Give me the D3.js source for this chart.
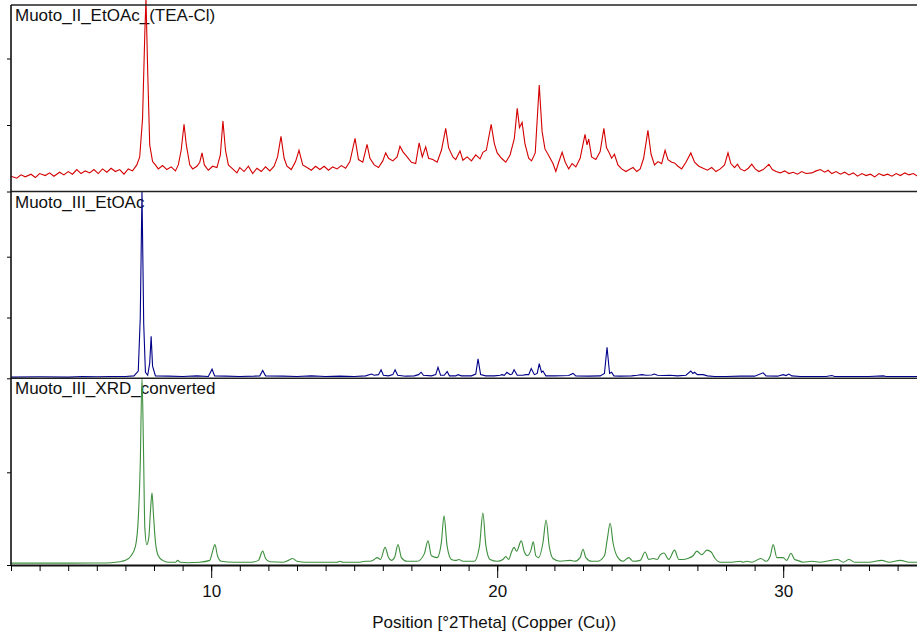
<!DOCTYPE html>
<meta charset="utf-8">
<head>
    <title>XRD patterns - Muoto</title>
    <script src="https://d3js.org/d3.v7.min.js"></script>
    <style>
        body { margin: 0; background: #fff; }
        text { font-family: Arial, "Liberation Sans", sans-serif; fill: #111; }
    </style>
</head>
<body>
<svg id="chart"></svg>
<script>
    // sample names, top to bottom
    var sampleNames = ["Muoto_II_EtOAc_(TEA-Cl)", "Muoto_III_EtOAc", "Muoto_III_XRD_converted"];

    // [2theta, counts]
    var teaClPattern = [
        [3.0,23],[3.2,20],[3.35,25],[3.5,22],[3.7,26],[3.85,21],[4.0,27],[4.2,24],[4.35,28],[4.5,23],
        [4.7,29],[4.85,25],[5.0,30],[5.15,26],[5.3,33],[5.45,27],[5.6,31],[5.75,28],[5.9,33],[6.05,27],
        [6.2,34],[6.35,29],[6.5,35],[6.65,30],[6.8,33],[6.95,26],[7.1,34],[7.25,31],[7.4,40],[7.5,52],
        [7.6,110],[7.68,240],[7.72,290],[7.78,180],[7.85,70],[7.95,45],[8.05,40],[8.15,34],[8.3,39],[8.45,33],
        [8.6,37],[8.75,31],[8.85,40],[8.95,62],[9.05,101],[9.13,70],[9.25,40],[9.35,34],[9.5,38],[9.6,44],
        [9.68,58],[9.76,40],[9.9,32],[10.05,38],[10.2,36],[10.32,55],[10.41,106],[10.5,62],[10.6,40],[10.75,34],
        [10.9,28],[11.0,36],[11.15,30],[11.3,38],[11.45,27],[11.6,35],[11.75,30],[11.9,37],[12.05,31],[12.2,38],
        [12.32,52],[12.44,83],[12.55,50],[12.65,38],[12.8,33],[12.95,45],[13.07,62],[13.2,40],[13.35,36],[13.5,32],
        [13.65,38],[13.8,33],[13.95,38],[14.1,32],[14.25,37],[14.4,34],[14.55,39],[14.7,35],[14.85,45],[15.03,80],
        [15.15,48],[15.3,44],[15.45,71],[15.55,50],[15.7,40],[15.85,36],[16.0,46],[16.1,58],[16.2,50],[16.35,46],
        [16.5,52],[16.6,68],[16.7,60],[16.85,52],[17.0,44],[17.15,42],[17.27,73],[17.38,52],[17.5,67],[17.6,50],
        [17.75,48],[17.9,44],[18.05,62],[18.2,95],[18.3,66],[18.45,52],[18.55,48],[18.7,61],[18.8,47],[18.95,52],
        [19.1,46],[19.25,55],[19.4,49],[19.5,59],[19.62,62],[19.79,101],[19.9,72],[20.0,58],[20.15,50],[20.3,44],
        [20.45,55],[20.6,80],[20.7,125],[20.78,96],[20.87,104],[20.97,72],[21.1,50],[21.2,46],[21.33,58],[21.47,160],
        [21.57,90],[21.67,64],[21.8,54],[21.95,42],[22.05,30],[22.15,44],[22.27,59],[22.38,44],[22.5,34],[22.62,42],
        [22.75,37],[22.9,50],[23.07,86],[23.14,70],[23.2,79],[23.3,52],[23.45,48],[23.6,60],[23.73,95],[23.82,66],
        [23.92,58],[24.0,50],[24.1,56],[24.22,40],[24.35,34],[24.5,30],[24.62,33],[24.75,36],[24.88,30],[25.0,34],
        [25.12,50],[25.27,92],[25.38,56],[25.5,40],[25.62,45],[25.75,42],[25.87,62],[25.97,48],[26.1,44],[26.2,43],
        [26.32,38],[26.45,34],[26.6,44],[26.77,58],[26.9,44],[27.05,38],[27.2,35],[27.35,32],[27.5,36],[27.65,30],
        [27.8,34],[27.95,40],[28.07,58],[28.17,42],[28.3,36],[28.4,41],[28.5,34],[28.65,31],[28.78,35],[28.9,41],
        [29.02,34],[29.15,30],[29.3,33],[29.5,41],[29.62,33],[29.75,30],[29.9,28],[30.05,31],[30.2,27],[30.35,29],
        [30.5,26],[30.65,30],[30.8,27],[31.0,28],[31.15,31],[31.3,33],[31.45,29],[31.57,32],[31.7,27],[31.85,30],
        [32.0,26],[32.15,29],[32.3,25],[32.45,28],[32.6,23],[32.75,27],[32.9,24],[33.05,26],[33.2,22],[33.35,27],
        [33.5,24],[33.65,26],[33.8,23],[33.95,27],[34.1,24],[34.25,28],[34.4,25],[34.55,27],[34.7,23],[34.85,26],[35.0,24]
    ];

    var etoacPattern = [
        [3.0,2],[4.0,2.5],[5.0,2],[5.5,3],[6.0,2.5],[6.5,3],[7.0,3],[7.3,4],[7.45,12],[7.52,100],
        [7.58,307],[7.64,90],[7.7,10],[7.78,5],[7.85,25],[7.9,69],[7.95,20],[8.05,4],[8.5,3.5],[9.0,3],
        [9.5,4],[9.9,3],[10.03,15],[10.12,4],[10.5,3.5],[11.0,3],[11.5,3.5],[11.7,4],[11.8,13],[11.9,4],
        [12.5,3.5],[13.0,3],[13.5,4],[14.0,3],[14.5,3.5],[15.0,3],[15.4,4],[15.6,7],[15.7,5],[15.85,6],
        [15.94,14],[16.02,5],[16.2,4],[16.35,6],[16.43,14],[16.52,5],[16.8,3.5],[17.1,4],[17.25,6],[17.34,10],
        [17.42,5],[17.7,4],[17.85,6],[17.93,18],[18.02,5],[18.15,5],[18.25,11],[18.33,4],[18.55,4],[18.63,6],
        [18.75,4],[19.1,4],[19.25,7],[19.33,32],[19.42,6],[19.6,4],[19.9,4],[20.1,5],[20.17,6],[20.25,5],
        [20.34,10],[20.45,6],[20.52,7],[20.59,14],[20.7,5],[20.9,5],[21.0,6],[21.1,6],[21.19,16],[21.3,6],
        [21.4,8],[21.47,24],[21.55,10],[21.6,12],[21.7,4],[22.0,4],[22.5,4.5],[22.65,8],[22.75,4],[23.2,3.5],
        [23.6,4],[23.75,8],[23.84,51],[23.93,8],[24.0,10],[24.08,4],[24.3,3.5],[24.7,4],[24.9,5],[25.06,6],
        [25.2,5],[25.4,5.5],[25.5,7],[25.6,5],[25.8,4.5],[26.04,5],[26.3,4],[26.6,5],[26.77,12],[26.84,8],
        [26.9,10],[27.0,6],[27.2,6],[27.35,4],[27.6,3],[28.0,3],[28.5,3.5],[29.0,3.5],[29.3,9],[29.4,4],
        [29.8,3.5],[30.0,6],[30.1,4.5],[30.2,7],[30.3,4],[30.6,3],[31.0,3],[31.5,3],[31.7,4.5],[31.8,3],
        [32.5,3],[33.0,3],[33.5,4],[33.6,3],[34.0,3],[34.5,3],[35.0,3]
    ];

    var convertedPattern = [
        [3.0,2],[4.0,2],[5.0,2],[6.0,2.2],[6.5,2.5],[6.8,3.5],[7.0,5],[7.2,10],[7.35,20],[7.45,50],
        [7.52,110],[7.58,202],[7.63,130],[7.68,40],[7.75,22],[7.82,30],[7.88,60],[7.93,78],[7.98,55],[8.05,25],
        [8.15,10],[8.3,5],[8.5,3],[8.75,3],[8.83,5],[8.92,3],[9.2,2.5],[9.6,3],[9.95,5],[10.05,15],
        [10.13,22],[10.22,10],[10.35,4],[10.8,3],[11.4,3],[11.65,5],[11.8,15],[11.9,7],[12.05,3.5],[12.5,3],
        [12.7,5],[12.85,7],[13.0,4],[13.3,3],[14.0,3],[14.4,3],[14.5,4],[14.6,3],[15.2,3],[15.38,4],
        [15.55,4],[15.7,6],[15.8,8],[15.92,6],[16.08,19],[16.2,8],[16.3,5],[16.42,9],[16.53,22],[16.65,8],
        [16.85,4],[17.2,4],[17.45,12],[17.58,26],[17.7,10],[17.9,8],[18.05,25],[18.14,53],[18.25,20],[18.4,6],
        [18.55,5],[18.66,6],[18.8,4],[19.2,4],[19.38,20],[19.5,56],[19.6,22],[19.75,6],[20.0,4],[20.2,6],
        [20.3,9],[20.4,6],[20.5,14],[20.59,19],[20.68,15],[20.84,26],[20.95,14],[21.05,10],[21.18,16],[21.26,25],
        [21.35,10],[21.45,8],[21.6,24],[21.71,48.5],[21.82,20],[21.95,7],[22.2,4],[22.55,5],[22.7,4],[22.9,8],
        [23.0,17],[23.1,8],[23.3,4],[23.5,4],[23.75,10],[23.85,28],[23.95,45],[24.05,24],[24.2,9],[24.4,4],
        [24.6,8],[24.75,4],[25.0,5],[25.17,14],[25.3,6],[25.45,7],[25.6,6],[25.7,11],[25.83,13],[26.0,6],
        [26.2,16],[26.35,6],[26.5,6],[26.66,7],[26.85,10],[26.98,15],[27.15,11],[27.33,16],[27.48,14],[27.62,7],
        [27.8,3],[28.2,3],[28.5,4],[28.6,3],[28.73,4],[28.9,3],[29.22,7],[29.4,4],[29.55,10],[29.65,22],
        [29.78,8],[30.0,8],[30.12,5],[30.27,12.6],[30.4,6],[30.5,5],[30.7,3],[31.0,4],[31.3,3],[31.9,6],
        [32.1,3],[32.3,6],[32.5,3],[33.0,3],[33.45,5],[33.7,3],[34.1,5],[34.4,3],[35.0,3]
    ];

    // axis ticks
    var minorTicks = d3.range(3, 35);
    var majorTicks = [10, 20, 30];
    var yTicks = [[0, 100, 200], [0, 100, 200], [0, 100]];
    var axisTitle = "Position [°2Theta] (Copper (Cu))";

    var width = 917, height = 634;
    var left = 11, bottom = 565;

    var svg = d3.select("#chart")
        .attr("width", width)
        .attr("height", height);

    var x = d3.scaleLinear().domain([3, 35]).range([left, left + 32 * 28.6]);

    // one panel per sample, stacked
    var panels = [
        { name: sampleNames[0], data: teaClPattern, color: "#d40000", top: 5,
          y: d3.scaleLinear().domain([0, 100]).range([191.5, 125]), ticks: yTicks[0], curve: d3.curveLinear },
        { name: sampleNames[1], data: etoacPattern, color: "#000088", top: 191.5,
          y: d3.scaleLinear().domain([0, 100]).range([378.3, 317.5]), ticks: yTicks[1], curve: d3.curveLinear },
        { name: sampleNames[2], data: convertedPattern, color: "#3d8f3d", top: 378.3,
          y: d3.scaleLinear().domain([0, 100]).range([565, 472.3]), ticks: yTicks[2], curve: d3.curveMonotoneX }
    ];

    panels.forEach(function(p) {
        var g = svg.append("g");

        g.append("text")
            .attr("x", 15)
            .attr("y", p.top + 16)
            .attr("font-size", 17)
            .text(p.name);

        var line = d3.line()
            .x(function(d) { return x(d[0]); })
            .y(function(d) { return p.y(d[1]); })
            .curve(p.curve);

        g.append("path")
            .datum(p.data)
            .attr("d", line)
            .attr("fill", "none")
            .attr("stroke", p.color)
            .attr("stroke-width", 1.1);

        g.append("g")
            .attr("transform", "translate(" + left + ",0)")
            .call(d3.axisLeft(p.y).tickValues(p.ticks).tickSize(4).tickFormat(""))
            .call(function(a) { a.select(".domain").remove(); });

        // border above each panel
        g.append("line")
            .attr("x1", left).attr("x2", width)
            .attr("y1", p.top).attr("y2", p.top)
            .attr("stroke", "#222")
            .attr("stroke-width", 1.6);
    });

    // left axis line
    svg.append("line")
        .attr("x1", left).attr("x2", left)
        .attr("y1", 5).attr("y2", bottom)
        .attr("stroke", "#111")
        .attr("stroke-width", 1.6);

    // x axis
    var xMinor = svg.append("g")
        .attr("transform", "translate(0," + bottom + ")")
        .call(d3.axisBottom(x).tickValues(minorTicks).tickSize(6).tickSizeOuter(0).tickFormat(""));
    xMinor.select(".domain").attr("stroke-width", 2.2).attr("stroke", "#111");

    svg.append("g")
        .attr("transform", "translate(0," + bottom + ")")
        .call(d3.axisBottom(x).tickValues(majorTicks).tickSize(13).tickPadding(7).tickFormat(d3.format("d")))
        .call(function(a) { a.select(".domain").remove(); })
        .selectAll("text")
        .attr("font-size", 17)
        .attr("font-family", "Arial, 'Liberation Sans', sans-serif")
        .attr("fill", "#111");

    svg.append("text")
        .attr("x", x(20) - 3)
        .attr("y", 628)
        .attr("text-anchor", "middle")
        .attr("font-size", 17)
        .text(axisTitle);
</script>
</body>
</html>
